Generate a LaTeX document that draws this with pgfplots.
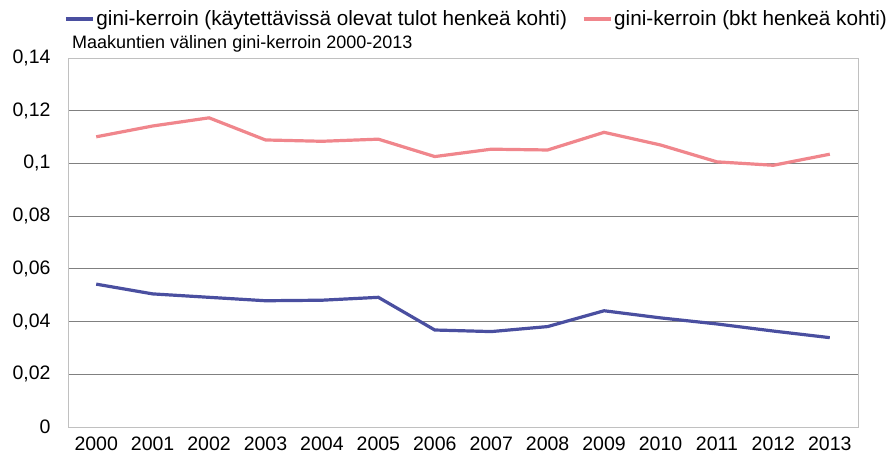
\documentclass[border=0pt]{standalone}
\usepackage{pgfplots}
\pgfplotsset{compat=1.18}
\usepackage{fontspec}
\setmainfont{Liberation Sans}
\definecolor{blueline}{HTML}{4A4FA0}
\definecolor{pinkline}{HTML}{F0868C}
\definecolor{gridc}{HTML}{808080}
\definecolor{framec}{HTML}{C0C0C0}
\begin{document}
\begin{tikzpicture}[x=1pt,y=1pt]
\useasboundingbox (0,0) rectangle (886,460);
\begin{axis}[
  at={(68pt,33pt)}, anchor=south west,
  scale only axis, width=790pt, height=369pt,
  xmin=-0.5, xmax=13.5, ymin=0, ymax=0.14,
  xtick={0,...,13},
  xticklabels={2000,2001,2002,2003,2004,2005,2006,2007,2008,2009,2010,2011,2012,2013},
  ytick={0,0.02,0.04,0.06,0.08,0.1,0.12,0.14},
  yticklabels={0,{0,02},{0,04},{0,06},{0,08},{0,1},{0,12},{0,14}},
  major tick length=0pt,
  ymajorgrids, grid style={gridc, line width=0.8pt},
  axis line style={framec, line width=0.8pt},
  x tick label style={font=\fontsize{19.5}{20}\selectfont, yshift=-6pt},
  y tick label style={font=\fontsize{19.5}{20}\selectfont, xshift=-14pt},
  legend columns=2,
  legend style={draw=none, fill=none, at={(0,1)}, anchor=west, xshift=-4pt, yshift=39pt,
    font=\fontsize{20.7}{21}\selectfont, inner sep=0pt,
    /tikz/every even column/.append style={column sep=13pt}},
  legend cell align=left,
  legend image code/.code={\draw[#1] (0pt,0pt) -- (27pt,0pt);},
]
\addplot[blueline, line width=3.2pt] coordinates {
(0,0.0542) (1,0.0505) (2,0.0492) (3,0.0479) (4,0.0481) (5,0.0492) (6,0.0368)
(7,0.0362) (8,0.0381) (9,0.0441) (10,0.0414) (11,0.0391) (12,0.0364) (13,0.0339)};
\addlegendentry{gini-kerroin (käytettävissä olevat tulot henkeä kohti)}
\addplot[pinkline, line width=3.2pt] coordinates {
(0,0.1101) (1,0.1142) (2,0.1173) (3,0.1089) (4,0.1084) (5,0.1092) (6,0.1026)
(7,0.1054) (8,0.1051) (9,0.1118) (10,0.1070) (11,0.1006) (12,0.0993) (13,0.1035)};
\addlegendentry{gini-kerroin (bkt henkeä kohti)}
\end{axis}
\node[anchor=base west, inner sep=0pt, font=\fontsize{18}{19}\selectfont] at (72,411) {Maakuntien välinen gini-kerroin 2000-2013};
\end{tikzpicture}
\end{document}
